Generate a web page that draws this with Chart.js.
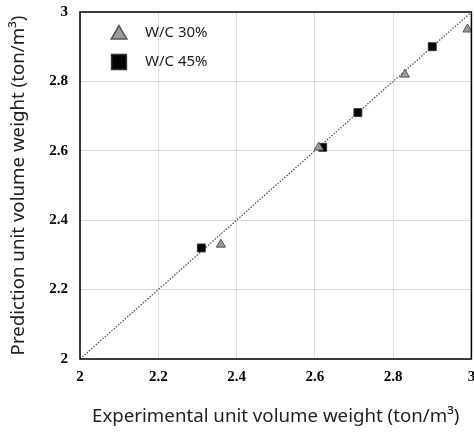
<!DOCTYPE html>
<html>
<head>
<meta charset="utf-8">
<script src="https://cdn.jsdelivr.net/npm/chart.js@4/dist/chart.umd.min.js"></script>
<style>
  html, body { margin: 0; padding: 0; background: #fff; overflow: hidden; }
  #wrap { width: 478px; height: 433px; }
</style>
</head>
<body>
<div id="wrap"><canvas id="chart"></canvas></div>
<script>
// W/C 30% (triangles)
const wc30X = [2.36, 2.61, 2.83, 2.99];
const wc30Y = [2.33, 2.61, 2.82, 2.95];
// W/C 45% (squares)
const wc45X = [2.31, 2.62, 2.71, 2.90];
const wc45Y = [2.32, 2.61, 2.71, 2.90];
// 1:1 line
const lineX = [2, 3];
const lineY = [2, 3];

const seriesNames = ['W/C 30%', 'W/C 45%'];
const axisMin = 2, axisMax = 3, axisStep = 0.2;

const toPoints = (xs, ys) => xs.map((x, i) => ({ x: x, y: ys[i] }));
const fmtTick = v => String(Math.round(v * 10) / 10);

const tickFont = { family: "'Liberation Serif', 'Times New Roman', serif", size: 15, weight: 'bold' };
const titleFont = { family: "'Noto Sans', 'Open Sans', sans-serif", size: 18.7 };

// legend inside plot area + frame
const framePlugin = {
    id: 'frame',
    afterDatasetsDraw(chart) {
        const { ctx, chartArea: a } = chart;
        ctx.save();
        ctx.strokeStyle = '#000';
        ctx.lineWidth = 1.5;
        ctx.strokeRect(a.left, a.top, a.right - a.left, a.bottom - a.top);

        const items = [
            { ds: chart.data.datasets[0], r: 9, y: 33 },
            { ds: chart.data.datasets[1], r: 10.5, y: 62 }
        ];
        items.forEach(it => {
            ctx.fillStyle = it.ds.backgroundColor;
            ctx.strokeStyle = it.ds.borderColor;
            Chart.helpers.drawPoint(ctx, {
                pointStyle: it.ds.pointStyle, radius: it.r, rotation: 0, borderWidth: 1
            }, 119, it.y + (it.ds.pointStyle === 'triangle' ? 1.5 : 0));
            ctx.fillStyle = '#222';
            ctx.font = "15px 'Noto Sans', 'Open Sans', sans-serif";
            ctx.textBaseline = 'middle';
            ctx.textAlign = 'left';
            ctx.fillText(it.ds.label, 145, it.y);
        });
        ctx.restore();
    }
};

const ctx = document.getElementById('chart').getContext('2d');
new Chart(ctx, {
    type: 'scatter',
    data: {
        datasets: [{
            label: seriesNames[0],
            data: toPoints(wc30X, wc30Y),
            pointStyle: 'triangle',
            pointRadius: 5.3,
            backgroundColor: '#9a9a9a',
            borderColor: '#555',
            borderWidth: 1,
            order: 0
        }, {
            label: seriesNames[1],
            data: toPoints(wc45X, wc45Y),
            pointStyle: 'rect',
            pointRadius: 5.6,
            backgroundColor: '#000',
            borderColor: '#333',
            borderWidth: 1,
            order: 1
        }, {
            type: 'line',
            label: '1:1',
            data: toPoints(lineX, lineY),
            borderColor: '#555',
            borderWidth: 1.3,
            borderDash: [1.5, 1.5],
            pointRadius: 0,
            fill: false,
            order: 2
        }]
    },
    options: {
        responsive: true,
        maintainAspectRatio: false,
        animation: false,
        layout: { padding: { left: 0, right: 0, top: 12, bottom: 0 } },
        plugins: { legend: { display: false }, tooltip: { enabled: false } },
        scales: {
            x: {
                type: 'linear',
                min: axisMin, max: axisMax,
                ticks: { stepSize: axisStep, color: '#000', font: tickFont, padding: 9, maxRotation: 0, callback: fmtTick },
                grid: { color: '#dcdcdc', drawTicks: false },
                border: { display: false },
                title: {
                    display: true,
                    text: 'Experimental unit volume weight (ton/m\u00b3)',
                    color: '#222', font: titleFont,
                    padding: { top: 0, bottom: 5 }
                },
                afterFit(s) { s.height = 74; s.paddingLeft = 0; s.paddingRight = 0; }
            },
            y: {
                type: 'linear',
                min: axisMin, max: axisMax,
                ticks: { stepSize: axisStep, color: '#000', font: tickFont, padding: 12, callback: fmtTick },
                grid: { color: '#dcdcdc', drawTicks: false },
                border: { display: false },
                title: {
                    display: true,
                    text: 'Prediction unit volume weight (ton/m\u00b3)',
                    color: '#222', font: titleFont,
                    padding: { top: 7, bottom: 0 }
                },
                afterFit(s) { s.width = 80; s.paddingTop = 0; s.paddingBottom = 0; }
            }
        }
    },
    plugins: [framePlugin]
});
</script>
</body>
</html>
